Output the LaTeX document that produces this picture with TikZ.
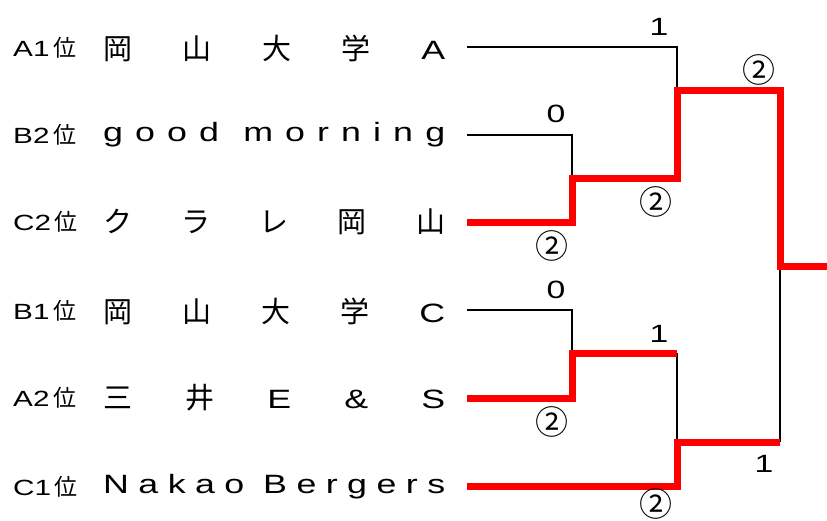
\documentclass[tikz,border=0pt]{standalone}
\usepackage{fontspec}
\setmainfont{Liberation Sans}[FakeStretch=1.35]
\newfontfamily\jp{Noto Sans CJK JP}
\newcommand\spreadname[1]{\hbox to 342pt{#1}}
\newcommand\kj[1]{{\jp\fontsize{29}{29}\selectfont #1}}
\begin{document}
\begin{tikzpicture}[x=1pt,y=-1pt,
  rank/.style={anchor=west, inner sep=0pt, font=\fontsize{22}{22}\selectfont},
  team/.style={anchor=west, inner sep=0pt, font=\fontsize{26.5}{26.5}\selectfont},
  score/.style={inner sep=0pt, font=\fontsize{25}{25}\selectfont},
  circled/.style={inner sep=0pt, font=\jp\fontsize{33}{33}\selectfont},
  lose/.style={line width=1.8pt, black, line join=miter},
  win/.style={line width=7pt, red, line join=miter}]
\useasboundingbox (0,0) rectangle (827,520);

% les rangs et les equipes
\node[rank] (r1) at (13,48) {A1\,{\jp\fontsize{23}{23}\selectfont 位}};
\node[rank] (r2) at (13,135) {B2\,{\jp\fontsize{23}{23}\selectfont 位}};
\node[rank] (r3) at (13,222) {C2\,{\jp\fontsize{23}{23}\selectfont 位}};
\node[rank] (r4) at (13,311) {B1\,{\jp\fontsize{23}{23}\selectfont 位}};
\node[rank] (r5) at (13,398) {A2\,{\jp\fontsize{23}{23}\selectfont 位}};
\node[rank] (r6) at (13,487) {C1\,{\jp\fontsize{23}{23}\selectfont 位}};

\node[team] (n1) at (103,48) {\spreadname{\kj{岡}\hfill\kj{山}\hfill\kj{大}\hfill\kj{学}\hfill A}};
\node[team] (n2) at (103,135) {\spreadname{g\hfill o\hfill o\hfill d\hfill\hfill m\hfill o\hfill r\hfill n\hfill i\hfill n\hfill g}};
\node[team] (n3) at (103,222) {\spreadname{\kj{ク}\hfill\kj{ラ}\hfill\kj{レ}\hfill\kj{岡}\hfill\kj{山}}};
\node[team] (n4) at (103,311) {\spreadname{\kj{岡}\hfill\kj{山}\hfill\kj{大}\hfill\kj{学}\hfill C}};
\node[team] (n5) at (103,398) {\spreadname{\kj{三}\hfill\kj{井}\hfill E\hfill \&\hfill S}};
\node[team] (n6) at (103,487) {\spreadname{N\hfill a\hfill k\hfill a\hfill o\hfill\hfill B\hfill e\hfill r\hfill g\hfill e\hfill r\hfill s}};

% departs des traits
\coordinate (s1) at (467,47);
\coordinate (s2) at (467,135);
\coordinate (s3) at (467,222);
\coordinate (s4) at (467,310);
\coordinate (s5) at (467,398);
\coordinate (s6) at (467,486);

% les matchs
\coordinate (m1) at (572,178);
\coordinate (m2) at (677,90);
\coordinate (m3) at (572,353);
\coordinate (m4) at (677,442);
\coordinate (q4) at (677,353);
\coordinate (q6) at (780,442);
\coordinate (f) at (780,266);
\coordinate (w) at (827,266);

% traits fins : les perdants
\draw[lose] (s1) -| (m2);
\draw[lose] (s2) -| (m1);
\draw[lose] (s4) -| (m3);
\draw[lose] (q4) -- (m4);
\draw[lose] (q6) -- (f);

% traits epais : les gagnants
\draw[win] (s3) -| (m1) -| (m2) -| (f) -- (w);
\draw[win] (s5) -| (m3) -- (q4);
\draw[win] (s6) -| (m4) -- (q6);

% les scores
\node[score] (a1) at (659,27) {1};
\node[score] (a2) at (556,114) {0};
\node[circled] (a3) at (759,70) {②};
\node[circled] (a4) at (656,202) {②};
\node[circled] (a5) at (552,246) {②};
\node[score] (a6) at (556,290) {0};
\node[score] (a7) at (659,334) {1};
\node[circled] (a8) at (552,422) {②};
\node[score] (a9) at (764,464) {1};
\node[circled] (a10) at (656,504) {②};
\end{tikzpicture}
\end{document}
